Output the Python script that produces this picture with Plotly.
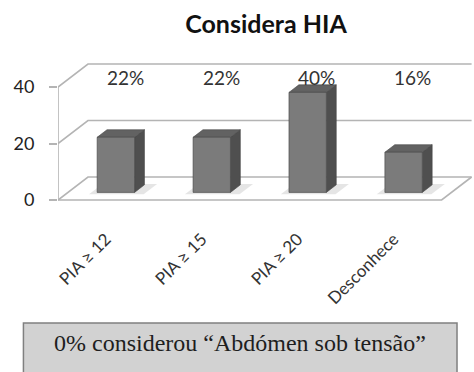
import plotly.graph_objects as go

# ---------------- data ----------------
categories = ["PIA ≥ 12", "PIA ≥ 15", "PIA ≥ 20", "Desconhece"]
bar_values = [19.5, 19.5, 35.4, 14.2]          # bar heights read against the value axis
pct_labels = ["22%", "22%", "40%", "16%"]
y_ticks = [0, 20, 40]
note_text = "0% considerou “Abdómen sob tensão”"
title_text = "Considera HIA"

# ---------------- geometry / style ----------------
W, H = 474, 372
L_PX, R_PX, T_PX, B_PX = 57.6, 474, 40, 215
PX_PER_X = 96.0
PX_PER_Y = 2.825
X0_PX = 105.6          # pixel of category 0 at front plane
Y0_PX = 200.0          # pixel of value 0 at front plane
DEPTH_DX_PX, DEPTH_DY_PX = 30.0, 23.0
DX = DEPTH_DX_PX / PX_PER_X
DY = DEPTH_DY_PX / PX_PER_Y
D_FRONT, D_BACK = 0.33, 0.66
BAR_W = 0.39
XMIN, XMAX = -0.5, len(categories) - 0.5
YMAX = max(y_ticks)

x_range = [(L_PX - X0_PX) / PX_PER_X, (R_PX - X0_PX) / PX_PER_X]
y_range = [(Y0_PX - B_PX) / PX_PER_Y, (Y0_PX - T_PX) / PX_PER_Y]

def P(x, v, d):
    return x + d * DX, v + d * DY

def px_to_paper_x(px):
    return (px - L_PX) / (R_PX - L_PX)

def px_to_paper_y(py):
    return (B_PX - py) / (B_PX - T_PX)

WALL = "#b4b4b4"
FRONT = "#7b7b7b"
TOP = "#626262"
SIDE = "#4f4f4f"
EDGE = "#454545"

fig = go.Figure()

def poly(points, fill, line_color=None, width=0.0):
    xs = [p[0] for p in points] + [points[0][0]]
    ys = [p[1] for p in points] + [points[0][1]]
    fig.add_trace(go.Scatter(
        x=xs, y=ys, mode="lines", fill="toself", fillcolor=fill,
        line=dict(color=line_color or fill, width=width),
        hoverinfo="skip", showlegend=False, cliponaxis=False))

def line(points, color=WALL, width=1.6):
    fig.add_trace(go.Scatter(
        x=[p[0] for p in points], y=[p[1] for p in points], mode="lines",
        line=dict(color=color, width=width), hoverinfo="skip",
        showlegend=False, cliponaxis=False))

# walls / gridlines
for v in y_ticks:
    line([P(XMIN, v, 0), P(XMIN, v, 1), P(XMAX, v, 1)])
line([P(XMIN, YMAX, 0), P(XMIN, 0, 0)])
line([P(XMIN, 0, 0), P(XMAX, 0, 0), P(XMAX, 0, 1)])

# soft shadows under the bars
for i, v in enumerate(bar_values):
    xl, xr = i - BAR_W / 2 - 0.06, i + BAR_W / 2 + 0.12
    poly([P(xl, 0, D_FRONT - 0.08), P(xr, 0, D_FRONT - 0.08),
          P(xr, 0, D_BACK + 0.04), P(xl, 0, D_BACK + 0.04)],
         "rgba(0,0,0,0.10)")

# bars (side, top, front)
for i, v in enumerate(bar_values):
    xl, xr = i - BAR_W / 2, i + BAR_W / 2
    poly([P(xr, 0, D_FRONT), P(xr, 0, D_BACK), P(xr, v, D_BACK), P(xr, v, D_FRONT)],
         SIDE, EDGE, 0.6)
    poly([P(xl, v, D_FRONT), P(xr, v, D_FRONT), P(xr, v, D_BACK), P(xl, v, D_BACK)],
         TOP, EDGE, 0.6)
    poly([P(xl, 0, D_FRONT), P(xr, 0, D_FRONT), P(xr, v, D_FRONT), P(xl, v, D_FRONT)],
         FRONT, EDGE, 0.6)

# percentage labels
for i, t in enumerate(pct_labels):
    lx, ly = P(i + 0.2, 43.5, 0)
    fig.add_annotation(x=lx, y=ly, text=t, showarrow=False,
                       font=dict(family="Lato", size=19, color="#333333"),
                       xanchor="center", yanchor="middle")

# note box
fig.add_shape(type="rect", xref="paper", yref="paper",
              x0=px_to_paper_x(23), x1=px_to_paper_x(457),
              y0=px_to_paper_y(323), y1=px_to_paper_y(385),
              fillcolor="#d2d2d2", line=dict(color="#808080", width=1.5),
              layer="above")
fig.add_annotation(xref="paper", yref="paper",
                   x=px_to_paper_x(240), y=px_to_paper_y(343),
                   text=note_text, showarrow=False,
                   xanchor="center", yanchor="middle",
                   font=dict(family="Liberation Serif", size=24, color="#1e1e1e"))

fig.update_layout(
    width=W, height=H,
    margin=dict(l=L_PX, r=W - R_PX, t=T_PX, b=H - B_PX, pad=0),
    paper_bgcolor="white", plot_bgcolor="white",
    title=dict(text="<b>" + title_text + "</b>", x=0.5, xref="paper",
               xanchor="center", y=1 - 24 / H, yref="container", yanchor="middle",
               font=dict(family="Lato", size=25, color="#111111")),
    xaxis=dict(range=x_range, showgrid=False, zeroline=False, showline=False,
               tickmode="array", tickvals=list(range(len(categories))),
               ticktext=categories, tickangle=-45, ticks="",
               ticklabelstandoff=10,
               tickfont=dict(family="Lato", size=17, color="#333333")),
    yaxis=dict(range=y_range, showgrid=False, zeroline=False, showline=False,
               tickmode="array", tickvals=y_ticks, ticks="outside", ticklen=8,
               tickcolor=WALL, tickwidth=1.6, ticklabelstandoff=11,
               tickfont=dict(family="Lato", size=18, color="#222222")),
    showlegend=False,
)

fig.write_html("out.html")
